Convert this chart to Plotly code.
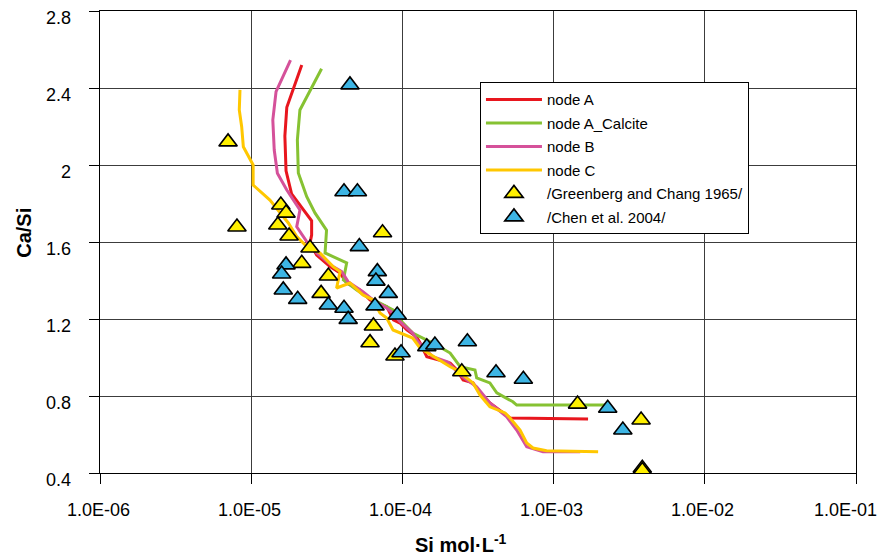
import math
import plotly.graph_objects as go

# Modelled Ca/Si ratio of C-S-H versus dissolved Si (mol/L)
si_node_a = [2.16e-5, 1.72e-5, 1.67e-5, 1.70e-5, 1.85e-5, 2.16e-5, 2.51e-5, 2.51e-5, 2.45e-5,
             2.71e-5, 3.32e-5, 3.87e-5, 4.28e-5, 5.25e-5, 6.11e-5, 7.87e-5, 8.28e-5, 8.71e-5,
             9.64e-5, 1.07e-4, 1.24e-4, 1.31e-4, 1.45e-4, 2.07e-4, 2.29e-4, 2.52e-4, 2.93e-4,
             3.26e-4, 3.79e-4, 4.62e-4, 5.15e-4, 1.69e-3]
casi_node_a = [2.52, 2.30, 2.15, 1.97, 1.85, 1.78, 1.71, 1.636, 1.595,
               1.532, 1.472, 1.439, 1.387, 1.351, 1.299, 1.264, 1.231, 1.195,
               1.179, 1.143, 1.108, 1.075, 1.004, 0.971, 0.935, 0.883, 0.868,
               0.816, 0.764, 0.712, 0.686, 0.681]

si_node_a_calcite = [2.92e-5, 2.10e-5, 2.02e-5, 2.05e-5, 2.33e-5, 2.64e-5, 3.15e-5, 3.08e-5,
                     4.28e-5, 4.07e-5, 4.99e-5, 5.81e-5, 7.11e-5, 8.67e-5, 1.01e-4, 1.17e-4,
                     1.59e-4, 2.07e-4, 2.41e-4, 3.02e-4, 3.10e-4, 3.79e-4, 4.21e-4, 5.38e-4,
                     5.70e-4, 2.24e-3]
casi_node_a_calcite = [2.50, 2.286, 2.13, 1.958, 1.835, 1.751, 1.662, 1.543,
                       1.491, 1.403, 1.351, 1.316, 1.283, 1.247, 1.179, 1.127,
                       1.075, 1.023, 0.952, 0.935, 0.894, 0.868, 0.816, 0.770,
                       0.753, 0.753]

si_node_b = [1.82e-5, 1.46e-5, 1.39e-5, 1.42e-5, 1.49e-5, 1.72e-5, 2.10e-5, 2.00e-5, 2.33e-5,
             2.71e-5, 3.48e-5, 3.97e-5, 4.37e-5, 5.48e-5, 6.40e-5, 7.87e-5, 8.67e-5, 9.64e-5,
             1.17e-4, 1.27e-4, 1.59e-4, 2.00e-4, 2.41e-4, 3.10e-4, 3.79e-4, 4.90e-4, 5.70e-4,
             6.64e-4, 8.51e-4, 1.50e-3]
casi_node_b = [2.545, 2.381, 2.234, 2.078, 1.957, 1.870, 1.766, 1.679, 1.602,
               1.543, 1.472, 1.446, 1.394, 1.342, 1.299, 1.257, 1.231, 1.186,
               1.127, 1.081, 1.004, 0.977, 0.909, 0.848, 0.764, 0.692, 0.623,
               0.537, 0.511, 0.511]

si_node_c = [8.43e-6, 8.34e-6, 8.65e-6, 8.87e-6, 1.03e-5, 1.03e-5, 1.33e-5, 1.55e-5, 1.76e-5,
             2.00e-5, 2.33e-5, 2.85e-5, 3.48e-5, 3.87e-5, 3.67e-5, 4.50e-5, 5.48e-5, 6.40e-5,
             7.11e-5, 7.87e-5, 8.67e-5, 1.17e-4, 1.31e-4, 2.07e-4, 2.29e-4, 2.93e-4, 3.26e-4,
             3.79e-4, 4.78e-4, 5.15e-4, 6.00e-4, 6.64e-4, 7.31e-4, 8.99e-4, 1.50e-3, 1.97e-3]
casi_node_c = [2.39, 2.286, 2.199, 2.095, 2.00, 1.896, 1.818, 1.751, 1.699,
               1.628, 1.576, 1.543, 1.472, 1.446, 1.361, 1.387, 1.325, 1.299,
               1.231, 1.205, 1.143, 1.101, 1.049, 0.952, 0.935, 0.868, 0.805,
               0.744, 0.712, 0.686, 0.623, 0.556, 0.530, 0.516, 0.511, 0.511]

# Experimental data
si_greenberg = [7.03e-6, 8.05e-6, 1.57e-5, 1.70e-5, 1.50e-5, 1.78e-5, 2.45e-5, 2.16e-5, 7.39e-5,
                3.24e-5, 2.90e-5, 6.43e-5, 6.11e-5, 8.93e-5, 2.47e-4, 1.44e-3, 3.79e-3,
                3.86e-3, 3.86e-3]
casi_greenberg = [2.12, 1.678, 1.792, 1.75, 1.688, 1.631, 1.569, 1.489, 1.648,
                  1.423, 1.333, 1.164, 1.077, 1.008, 0.926, 0.758, 0.675,
                  0.425, 0.413]

si_chen = [4.50e-5, 4.11e-5, 5.04e-5, 5.19e-5, 1.70e-5, 1.59e-5, 1.63e-5, 2.03e-5, 3.24e-5,
           4.11e-5, 4.38e-5, 6.83e-5, 6.68e-5, 8.07e-5, 6.59e-5, 9.24e-5, 9.80e-5, 1.45e-4,
           1.64e-4, 2.69e-4, 4.16e-4, 6.31e-4, 2.28e-3, 2.87e-3]
casi_chen = [2.416, 1.861, 1.861, 1.576, 1.481, 1.434, 1.351, 1.302, 1.273,
             1.256, 1.198, 1.446, 1.397, 1.333, 1.268, 1.221, 1.025, 1.056,
             1.065, 1.082, 0.921, 0.887, 0.736, 0.623]

x_tick_vals = [1e-6, 1e-5, 1e-4, 1e-3, 1e-2, 1e-1]
x_tick_text = ["1.0E-06", "1.0E-05", "1.0E-04", "1.0E-03", "1.0E-02", "1.0E-01"]
y_tick_vals = [0.4, 0.8, 1.2, 1.6, 2.0, 2.4, 2.8]
y_tick_text = ["0.4", "0.8", "1.2", "1.6", "2", "2.4", "2.8"]

FONT = "Arial, Liberation Sans, sans-serif"

fig = go.Figure()

line_series = [
    ("node A", si_node_a, casi_node_a, "#E8161E"),
    ("node A_Calcite", si_node_a_calcite, casi_node_a_calcite, "#86C232"),
    ("node B", si_node_b, casi_node_b, "#D5519A"),
    ("node C", si_node_c, casi_node_c, "#FFC700"),
]
for name, xs, ys, color in line_series:
    fig.add_trace(go.Scatter(
        x=xs, y=ys, mode="lines", name=name, legendgroup=name,
        line=dict(color=color, width=3),
    ))

marker_series = [
    ("/Greenberg and Chang 1965/", si_greenberg, casi_greenberg, "#FFF000"),
    ("/Chen et al. 2004/", si_chen, casi_chen, "#3DB5E4"),
]
for name, xs, ys, color in marker_series:
    fig.add_trace(go.Scatter(
        x=xs, y=ys, mode="markers", name=name, legendgroup=name,
        marker=dict(symbol="triangle-up", size=16, color=color,
                    line=dict(color="black", width=1.6)),
    ))

annotations = []
for v, t in zip(x_tick_vals, x_tick_text):
    last = v == x_tick_vals[-1]
    annotations.append(dict(
        x=math.log10(v), xref="x", y=0, yref="paper",
        text=t, showarrow=False, xanchor="center", yanchor="middle",
        xshift=-11 if last else -2, yshift=-37,
        font=dict(family=FONT, size=18, color="black"),
    ))
for v, t in zip(y_tick_vals, y_tick_text):
    annotations.append(dict(
        x=0, xref="paper", y=v, yref="y",
        text=t, showarrow=False, xanchor="right", yanchor="middle",
        xshift=-27, yshift=-7,
        font=dict(family=FONT, size=18, color="black"),
    ))
annotations.append(dict(
    x=0.4775, xref="paper", y=0, yref="paper", text="<b>Si mol·L<sup>-1</sup></b>",
    showarrow=False, xanchor="center", yanchor="middle", yshift=-70,
    font=dict(family=FONT, size=20, color="black"),
))
annotations.append(dict(
    x=0, xref="paper", y=0.52, yref="paper", text="<b>Ca/Si</b>", textangle=-90,
    showarrow=False, xanchor="center", yanchor="middle", xshift=-76,
    font=dict(family=FONT, size=20, color="black"),
))

axis_common = dict(
    showgrid=True, gridcolor="#3c3c3c", gridwidth=1,
    showline=True, linecolor="black", linewidth=1, mirror=True,
    ticks="outside", ticklen=10, tickcolor="black", tickwidth=1,
    showticklabels=False, zeroline=False,
)

fig.update_layout(
    width=879, height=557,
    margin=dict(l=100, r=23, t=11, b=84),
    paper_bgcolor="white", plot_bgcolor="white",
    xaxis=dict(type="log", range=[-6, -1], dtick=1, **axis_common),
    yaxis=dict(range=[0.4, 2.8], tick0=0.4, dtick=0.4, **axis_common),
    annotations=annotations,
    showlegend=True,
    legend=dict(
        x=0.5026, y=0.846, xanchor="left", yanchor="top",
        bgcolor="white", bordercolor="black", borderwidth=1,
        font=dict(family=FONT, size=15, color="black"),
        tracegroupgap=1, itemwidth=56,
    ),
    font=dict(family=FONT, color="black"),
)

fig.write_html("out.html")
